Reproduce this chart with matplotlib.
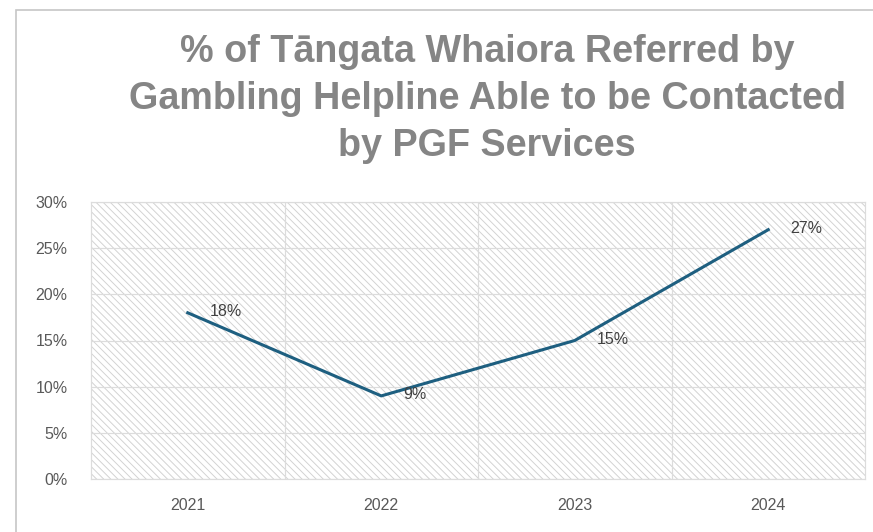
import matplotlib
matplotlib.use("Agg")
import matplotlib.pyplot as plt
from matplotlib.patches import Rectangle
from matplotlib.ticker import MultipleLocator, FixedLocator, FuncFormatter

years = ["2021", "2022", "2023", "2024"]
pct = [18, 9, 15, 27]
labels = ["18%", "9%", "15%", "27%"]

DPI = 85
W, H = 873, 532
plt.rcParams["hatch.linewidth"] = 0.8

font = ["Liberation Sans", "DejaVu Sans"]
tick_col = "#595959"
grid_col = "#dcdcdc"

fig = plt.figure(figsize=(W / DPI, H / DPI), dpi=DPI)

# outer chart border (left and top visible, rest cropped)
fig.patches.append(Rectangle((16 / W, -0.1), 2.0, 1.0 - 10 / H + 0.1,
                             transform=fig.transFigure, fill=False,
                             edgecolor="#c6c6c6", linewidth=1.4))

fig.text(487 / W, 1 - 99 / H,
         "% of Tāngata Whaiora Referred by\nGambling Helpline Able to be Contacted\nby PGF Services",
         ha="center", va="center", fontsize=32, fontweight="bold",
         color="#858585", family=font, linespacing=1.39)

ax = fig.add_axes([91 / W, 1 - 479 / H, (865 - 91) / W, (479 - 202) / H])
ax.add_patch(Rectangle((0, 0), 1, 1, transform=ax.transAxes, facecolor="white",
                       edgecolor="#d2d2d2", linewidth=0, hatch="\\\\\\\\", zorder=0))

x = list(range(1, len(years) + 1))
ax.plot(x, pct, color="#1e5f80", linewidth=2.6, zorder=3)
for xi, yi, lab in zip(x, pct, labels):
    ax.annotate(lab, (xi, yi), xytext=(19, 1), textcoords="offset points",
                ha="left", va="center", fontsize=13.5, color="#404040",
                family=font, zorder=4)

ax.set_xlim(0.5, 4.5)
ax.set_ylim(0, 30)
ax.xaxis.set_major_locator(FixedLocator(x))
ax.set_xticklabels(years)
ax.xaxis.set_minor_locator(FixedLocator([1.5, 2.5, 3.5]))
ax.yaxis.set_major_locator(MultipleLocator(5))
ax.yaxis.set_major_formatter(FuncFormatter(lambda v, p: f"{v:.0f}%"))
ax.grid(axis="y", which="major", color=grid_col, linewidth=1.0, zorder=1)
ax.grid(axis="x", which="minor", color=grid_col, linewidth=1.0, zorder=1)
ax.set_axisbelow(True)
ax.tick_params(which="both", length=0)
ax.tick_params(axis="y", pad=20, labelsize=13.5, labelcolor=tick_col)
ax.tick_params(axis="x", pad=16, labelsize=13.5, labelcolor=tick_col)
for t in ax.get_xticklabels() + ax.get_yticklabels():
    t.set_family(font)
for s in ax.spines.values():
    s.set_color(grid_col)
    s.set_linewidth(1.0)

fig.savefig("out.png", dpi=DPI)
